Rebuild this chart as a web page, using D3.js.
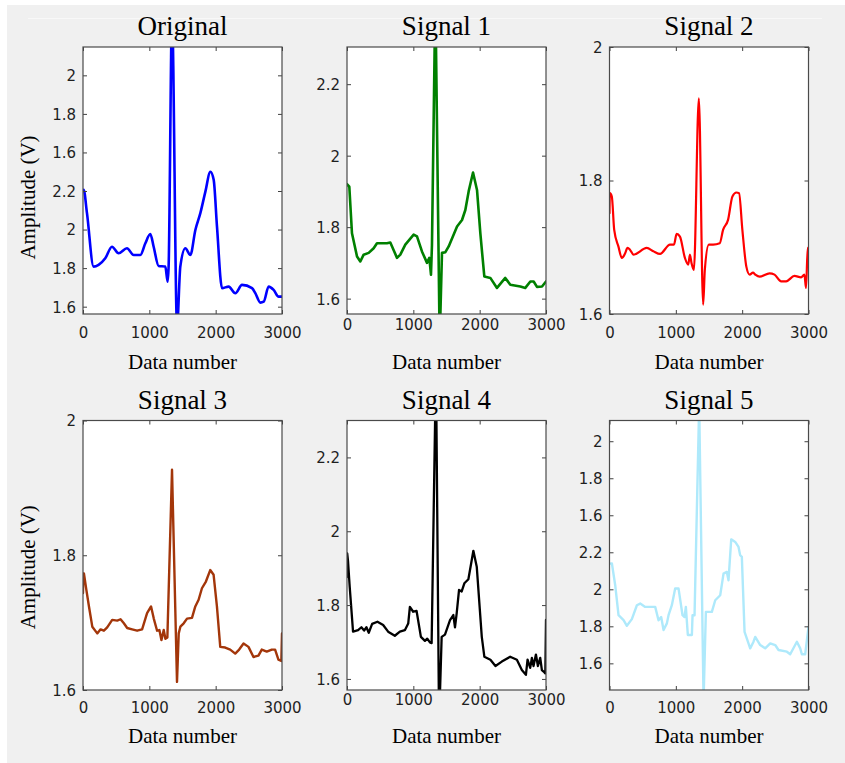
<!DOCTYPE html>
<html>
<head>
<meta charset="utf-8">
<script src="https://cdn.jsdelivr.net/npm/d3@7"></script>
<style>
  html, body { margin: 0; padding: 0; background: #ffffff; }
  svg { display: block; }
</style>
</head>
<body>
<svg id="fig" width="845" height="763"></svg>
<script>
// ---- data: ECG segment (sample index, amplitude in V) ----
const panelTitles = ["Original", "Signal 1", "Signal 2", "Signal 3", "Signal 4", "Signal 5"];
const xTickValues = [0, 1000, 2000, 3000];

// Original and Signal 5 share a stacked amplitude scale; tick positions and their printed labels
const stackedTickValues = [1.6, 1.8, 2.0, 2.2, 2.4, 2.6, 2.8];
const stackedTickLabels = ["1.6", "1.8", "2", "2.2", "1.6", "1.8", "2"];
const wideTickValues = [1.6, 1.8, 2.0, 2.2];
const wideTickLabels = ["1.6", "1.8", "2", "2.2"];
const narrowTickValues = [1.6, 1.8, 2.0];
const narrowTickLabels = ["1.6", "1.8", "2"];

const originalData = [
  [0, 2.2], [10, 2.206], [60, 2.085], [160, 1.808], [235, 1.817], [336, 1.851], [437, 1.911],
  [537, 1.877], [663, 1.903], [763, 1.868], [864, 1.868], [940, 1.929], [1015, 1.977],
  [1065, 1.911], [1140, 1.811], [1241, 1.808], [1276, 1.73], [1291, 1.81], [1342, 3.1],
  [1418, 1.5], [1467, 1.808], [1543, 1.903], [1618, 1.868], [1694, 1.998], [1769, 2.085],
  [1845, 2.197], [1920, 2.30], [1970, 2.258], [2020, 2.015], [2096, 1.696], [2196, 1.704],
  [2297, 1.67], [2397, 1.713], [2548, 1.696], [2598, 1.67], [2674, 1.621], [2724, 1.626],
  [2799, 1.704], [2874, 1.687], [2950, 1.652], [3000, 1.652]
];

const signal1Data = [
  [0, 1.92], [35, 1.913], [75, 1.783], [151, 1.718], [201, 1.704], [251, 1.723], [327, 1.728],
  [402, 1.741], [452, 1.755], [603, 1.755], [653, 1.757], [754, 1.714], [804, 1.723],
  [879, 1.751], [1005, 1.779], [1055, 1.774], [1130, 1.732], [1206, 1.70], [1241, 1.714],
  [1266, 1.667], [1281, 1.75], [1332, 2.45], [1397, 1.48], [1432, 1.728], [1483, 1.73],
  [1533, 1.746], [1659, 1.802], [1734, 1.82], [1784, 1.848], [1834, 1.90], [1900, 1.953],
  [1960, 1.904], [2010, 1.783], [2070, 1.662], [2161, 1.658], [2261, 1.63], [2386, 1.658],
  [2462, 1.639], [2613, 1.634], [2688, 1.63], [2764, 1.648], [2814, 1.648], [2864, 1.633],
  [2940, 1.634], [3000, 1.648]
];

const signal2Data = [
  [0, 1.751], [5, 1.781], [35, 1.776], [71, 1.726], [135, 1.701], [186, 1.684], [236, 1.691],
  [271, 1.699], [311, 1.696], [361, 1.689], [562, 1.699], [661, 1.694], [762, 1.690],
  [912, 1.704], [972, 1.704], [1012, 1.72], [1062, 1.716], [1137, 1.684], [1187, 1.674],
  [1212, 1.689], [1237, 1.676], [1272, 1.666], [1347, 1.923], [1412, 1.614], [1437, 1.666],
  [1497, 1.704], [1562, 1.704], [1662, 1.706], [1712, 1.726], [1787, 1.741], [1853, 1.776],
  [1913, 1.782], [1953, 1.781], [2003, 1.726], [2063, 1.671], [2113, 1.659], [2163, 1.662],
  [2198, 1.659], [2263, 1.656], [2413, 1.661], [2488, 1.659], [2588, 1.649], [2663, 1.649],
  [2788, 1.657], [2888, 1.655], [2938, 1.659], [2963, 1.639], [2988, 1.699], [3000, 1.699]
];

const signal3Data = [
  [0, 1.744], [5, 1.773], [14, 1.773], [50, 1.749], [90, 1.724], [140, 1.694], [215, 1.684],
  [265, 1.690], [315, 1.688], [365, 1.693], [440, 1.704], [516, 1.703], [566, 1.705],
  [616, 1.699], [666, 1.692], [741, 1.690], [816, 1.688], [891, 1.690], [966, 1.714],
  [1026, 1.724], [1067, 1.706], [1117, 1.688], [1152, 1.689], [1182, 1.674], [1217, 1.689],
  [1242, 1.676], [1272, 1.678], [1342, 1.927], [1417, 1.612], [1443, 1.684], [1468, 1.694],
  [1518, 1.699], [1568, 1.706], [1643, 1.707], [1693, 1.724], [1743, 1.734], [1793, 1.751],
  [1853, 1.761], [1918, 1.778], [1969, 1.771], [2019, 1.724], [2069, 1.664], [2144, 1.663],
  [2219, 1.660], [2295, 1.654], [2354, 1.660], [2420, 1.669], [2495, 1.664], [2570, 1.649],
  [2645, 1.651], [2695, 1.660], [2770, 1.657], [2846, 1.660], [2896, 1.660], [2946, 1.645],
  [2990, 1.643], [3000, 1.684]
];

const signal4Data = [
  [0, 1.876], [3, 1.94], [15, 1.92], [41, 1.849], [91, 1.728], [167, 1.732], [217, 1.740],
  [258, 1.731], [293, 1.740], [328, 1.725], [379, 1.749], [459, 1.755], [545, 1.746],
  [620, 1.728], [721, 1.717], [797, 1.728], [872, 1.732], [923, 1.75], [948, 1.795],
  [998, 1.782], [1049, 1.784], [1114, 1.714], [1175, 1.703], [1210, 1.709], [1250, 1.699],
  [1276, 1.697], [1341, 2.45], [1388, 1.48], [1427, 1.714], [1477, 1.72], [1553, 1.759],
  [1603, 1.773], [1628, 1.74], [1653, 1.777], [1689, 1.841], [1729, 1.837], [1769, 1.859],
  [1830, 1.87], [1905, 1.947], [1956, 1.904], [2032, 1.714], [2071, 1.66], [2162, 1.652],
  [2238, 1.635], [2334, 1.647], [2460, 1.66], [2561, 1.652], [2636, 1.624], [2697, 1.611],
  [2722, 1.652], [2762, 1.63], [2787, 1.657], [2812, 1.635], [2848, 1.666], [2878, 1.635],
  [2913, 1.657], [2938, 1.624], [2964, 1.62], [2990, 1.615], [3000, 1.76]
];

const signal5Data = [
  [0, 2.139], [36, 2.14], [86, 2.022], [136, 1.860], [212, 1.833], [262, 1.803], [337, 1.839],
  [413, 1.914], [463, 1.923], [538, 1.905], [689, 1.905], [739, 1.833], [779, 1.85],
  [815, 1.780], [865, 1.816], [890, 1.86], [940, 1.914], [990, 2.004], [1041, 2.004],
  [1101, 1.86], [1131, 1.85], [1151, 1.905], [1181, 1.753], [1242, 1.753], [1252, 1.86],
  [1282, 1.86], [1352, 3.0], [1418, 1.40], [1453, 1.878], [1543, 1.878], [1594, 1.941],
  [1669, 1.968], [1719, 2.085], [1769, 2.094], [1794, 2.049], [1835, 2.27], [1895, 2.256],
  [1945, 2.229], [1970, 2.184], [1995, 2.175], [2036, 1.770], [2071, 1.734], [2121, 1.681],
  [2171, 1.717], [2197, 1.743], [2272, 1.699], [2347, 1.681], [2423, 1.708], [2498, 1.699],
  [2548, 1.672], [2674, 1.663], [2724, 1.649], [2825, 1.717], [2875, 1.681], [2900, 1.649],
  [2950, 1.649], [3000, 1.797]
];

// ---- layout ----
const panels = [
  { title: panelTitles[0], data: originalData, color: "#0000ff", width: 2.6, smooth: true,
    x: 83, y: 47, w: 199, h: 267, yDomain: [1.562, 2.947],
    ticks: stackedTickValues, labels: stackedTickLabels, xLab: 24, yLabel: true },
  { title: panelTitles[1], data: signal1Data, color: "#008000", width: 2.6, smooth: false,
    x: 347, y: 47, w: 199, h: 267, yDomain: [1.557, 2.304],
    ticks: wideTickValues, labels: wideTickLabels, xLab: 16, yLabel: false },
  { title: panelTitles[2], data: signal2Data, color: "#ff0000", width: 2.2, smooth: true,
    x: 609.5, y: 47, w: 199, h: 267, yDomain: [1.6, 2.0],
    ticks: narrowTickValues, labels: narrowTickLabels, xLab: 24, yLabel: false },
  { title: panelTitles[3], data: signal3Data, color: "#a3360a", width: 2.4, smooth: false,
    x: 83, y: 420.5, w: 199, h: 269.5, yDomain: [1.6, 2.0],
    ticks: narrowTickValues, labels: narrowTickLabels, xLab: 23, yLabel: true },
  { title: panelTitles[4], data: signal4Data, color: "#000000", width: 2.3, smooth: false,
    x: 347, y: 420.5, w: 199, h: 269.5, yDomain: [1.570, 2.300],
    ticks: wideTickValues, labels: wideTickLabels, xLab: 15, yLabel: false },
  { title: panelTitles[5], data: signal5Data, color: "#aee9fb", width: 2.4, smooth: false,
    x: 609.5, y: 420.5, w: 199, h: 269.5, yDomain: [1.456, 2.912],
    ticks: stackedTickValues, labels: stackedTickLabels, xLab: 23, yLabel: false }
];

const svg = d3.select("#fig");
const serif = "'Liberation Serif', 'Times New Roman', serif";
const sans = "'DejaVu Sans', Verdana, sans-serif";

// figure background
svg.append("rect").attr("x", 7).attr("y", 5).attr("width", 838).attr("height", 758)
  .attr("fill", "#f0f0f0");
svg.append("line").attr("x1", 28).attr("x2", 822).attr("y1", 18.5).attr("y2", 18.5)
  .attr("stroke", "#f8f8f8").attr("stroke-width", 1);

panels.forEach((p, i) => {
  const g = svg.append("g").attr("transform", `translate(${p.x},${p.y})`);
  const x = d3.scaleLinear().domain([0, 3000]).range([0, p.w]);
  const y = d3.scaleLinear().domain(p.yDomain).range([p.h, 0]);

  g.append("rect").attr("width", p.w).attr("height", p.h).attr("fill", "#ffffff");

  const clipId = "clip" + i;
  g.append("clipPath").attr("id", clipId)
    .append("rect").attr("width", p.w).attr("height", p.h);

  const line = d3.line().x(d => x(d[0])).y(d => y(d[1]))
    .curve(p.smooth ? d3.curveMonotoneX : d3.curveLinear);
  g.append("path").datum(p.data)
    .attr("clip-path", `url(#${clipId})`)
    .attr("d", line)
    .attr("fill", "none")
    .attr("stroke", p.color)
    .attr("stroke-width", p.width)
    .attr("stroke-linejoin", "round")
    .attr("stroke-linecap", "round");

  // axes with inward ticks on all four sides
  const styleAxis = sel => {
    sel.select(".domain").remove();
    sel.selectAll(".tick line").attr("stroke", "#404040").attr("stroke-width", 1);
    sel.selectAll("text").attr("fill", "#1f1f1f")
      .style("font-family", sans).style("font-size", "15px");
  };

  const xb = g.append("g").attr("transform", `translate(0,${p.h})`)
    .call(d3.axisBottom(x).tickValues(xTickValues).tickFormat(d3.format("d"))
      .tickSizeInner(-4).tickSizeOuter(0));
  styleAxis(xb);
  xb.selectAll("text").attr("y", p.xLab).attr("dy", null);

  const xt = g.append("g")
    .call(d3.axisTop(x).tickValues(xTickValues).tickFormat("").tickSizeInner(-4).tickSizeOuter(0));
  styleAxis(xt);

  const yl = g.append("g")
    .call(d3.axisLeft(y).tickValues(p.ticks).tickFormat((d, k) => p.labels[k])
      .tickSizeInner(-4).tickSizeOuter(0));
  styleAxis(yl);
  yl.selectAll("text").attr("x", -7).attr("dy", "0.36em");

  const yr = g.append("g").attr("transform", `translate(${p.w},0)`)
    .call(d3.axisRight(y).tickValues(p.ticks).tickFormat("").tickSizeInner(-4).tickSizeOuter(0));
  styleAxis(yr);

  // frame
  g.append("rect").attr("width", p.w).attr("height", p.h)
    .attr("fill", "none").attr("stroke", "#4a4a4a").attr("stroke-width", 1.2);

  // title
  g.append("text").attr("x", p.w / 2).attr("y", -12)
    .attr("text-anchor", "middle")
    .style("font-family", serif).style("font-size", "27px").attr("fill", "#000")
    .text(p.title);

  // x label
  g.append("text").attr("x", p.w / 2).attr("y", p.h + (i < 3 ? 55 : 52.5))
    .attr("text-anchor", "middle")
    .style("font-family", serif).style("font-size", "21px").attr("fill", "#000")
    .text("Data number");

  // y label
  if (p.yLabel) {
    g.append("text")
      .attr("transform", `translate(${35 - p.x},${p.h / 2 + (i < 3 ? 17 : 12)}) rotate(-90)`)
      .attr("text-anchor", "middle")
      .style("font-family", serif).style("font-size", "21px").attr("fill", "#000")
      .text("Amplitude (V)");
  }
});
</script>
</body>
</html>
